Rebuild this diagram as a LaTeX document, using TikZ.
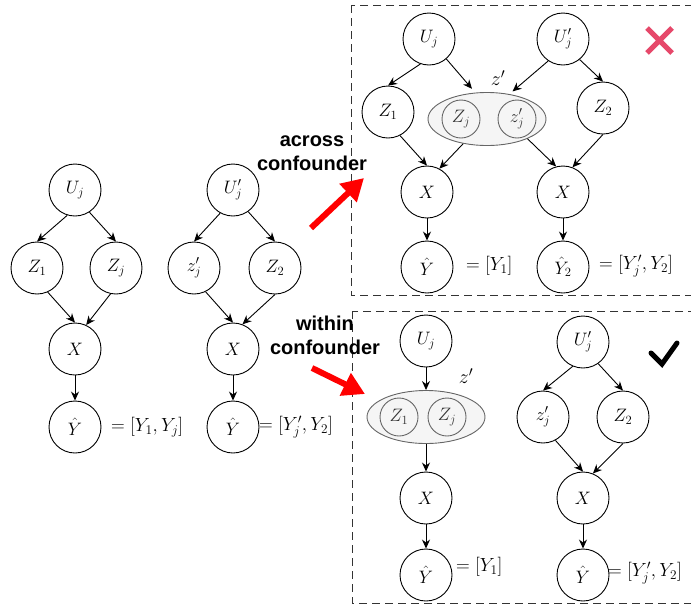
\RequirePackage{fix-cm}
\documentclass[tikz,border=0pt]{standalone}
\usepackage{fontspec}
\usetikzlibrary{arrows.meta,shapes.geometric}
\newfontfamily\labelfont{Liberation Sans}
\definecolor{crossred}{RGB}{230,72,106}
\definecolor{groupgray}{RGB}{102,102,102}
\definecolor{groupfill}{RGB}{245,245,245}

\begin{document}
\begin{tikzpicture}[x=1pt,y=-1pt,
	varnode/.style={circle,draw,line width=0.9pt,minimum size=52pt,inner sep=0pt,font=\fontsize{18}{20}\selectfont},
	subnode/.style={circle,draw=groupgray,line width=0.9pt,minimum size=38pt,inner sep=0pt,text=black!80,font=\fontsize{18}{20}\selectfont},
	groupnode/.style={ellipse,draw=groupgray,fill=groupfill,line width=0.9pt,minimum width=118pt,minimum height=53pt,inner sep=0pt},
	eqlabel/.style={anchor=west,inner sep=0pt,font=\fontsize{19}{21}\selectfont},
	link/.style={-{Stealth[length=9pt,width=8pt]},line width=0.9pt},
	panelbox/.style={draw=black!80,line width=0.9pt,dash pattern=on 8pt off 5pt},
	hintarrow/.style={-{Triangle[length=22pt,width=24pt]},red,line width=6pt},
	taglabel/.style={align=center,font=\labelfont\bfseries\fontsize{20}{24}\selectfont}]
	\useasboundingbox (0,0) rectangle (691,606);
	\draw[panelbox] (351,5) rectangle (700,295);
	\draw[panelbox] (352,311) rectangle (700,603);

	\node[varnode] (au) at (75,190) {$U_j$};
	\node[varnode] (az1) at (37,268) {$Z_1$};
	\node[varnode] (azj) at (116,268) {$Z_j$};
	\node[varnode] (ax) at (75,349) {$X$};
	\node[varnode] (ay) at (75,427) {$\hat{Y}$};
	\node[eqlabel] (aeq) at (111,427) {$=[Y_1,Y_j]$};
	\draw[link] (au.-107) -- (az1.north);
	\draw[link] (au.-57) -- (azj.north);
	\draw[link] (az1.-66) -- (ax.north);
	\draw[link] (azj.-102) -- (ax.65);
	\draw[link] (ax) -- (ay);

	\node[varnode] (bu) at (233,190) {$U'_j$};
	\node[varnode] (bzj) at (194,268) {$z'_j$};
	\node[varnode] (bz2) at (275,268) {$Z_2$};
	\node[varnode] (bx) at (233,349) {$X$};
	\node[varnode] (by) at (233,427) {$\hat{Y}$};
	\node[eqlabel] (beq) at (259,427) {$=[Y'_j,Y_2]$};
	\draw[link] (bu.-119) -- (bzj.north);
	\draw[link] (bu.-55) -- (bz2.north);
	\draw[link] (bzj.-64) -- (bx.north);
	\draw[link] (bz2.-90) -- (bx.69);
	\draw[link] (bx) -- (by);

	\node[varnode] (cu) at (429,39) {$U_j$};
	\node[varnode] (cu2) at (563,39) {$U'_j$};
	\node[varnode] (cz1) at (388,112) {$Z_1$};
	\node[groupnode] (cg) at (487,119) {};
	\node[subnode] (czj) at (461,119) {$Z_j$};
	\node[subnode] (czp) at (517,119) {$z'_j$};
	\node[eqlabel,anchor=center,font=\fontsize{20}{22}\selectfont] (cgl) at (498,78) {$z'$};
	\node[varnode] (cz2) at (603,108) {$Z_2$};
	\node[varnode] (cx) at (427,192) {$X$};
	\node[varnode] (cx2) at (563,192) {$X$};
	\node[varnode] (cy) at (427,267) {$\hat{Y}$};
	\node[varnode] (cy2) at (563,267) {$\hat{Y}_2$};
	\node[eqlabel] (ceq) at (466,266) {$=[Y_1]$};
	\node[eqlabel] (ceq2) at (599,266) {$=[Y'_j,Y_2]$};
	\draw[link] (cu.-109) -- (cz1.north);
	\draw[link,shorten >=5pt] (cu.-49) -- (cg.114);
	\draw[link,shorten >=4pt] (cu2.-124) -- (cg.48);
	\draw[link] (cu2.-51) -- (cz2.north);
	\draw[link] (cz1.-63) -- (cx.north);
	\draw[link] (cg.-134) -- (cx.62);
	\draw[link] (cg.-26) -- (cx2.105);
	\draw[link] (cz2.south) -- (cx2.69);
	\draw[link] (cx) -- (cy);
	\draw[link] (cx2) -- (cy2);

	\node[varnode] (du) at (426,341) {$U_j$};
	\node[groupnode] (dg) at (426,417) {};
	\node[subnode] (dz1) at (399,417) {$Z_1$};
	\node[subnode] (dzj) at (447,417) {$Z_j$};
	\node[eqlabel,anchor=center,font=\fontsize{20}{22}\selectfont] (dgl) at (466,376) {$z'$};
	\node[varnode] (dx) at (426,498) {$X$};
	\node[varnode] (dy) at (426,575) {$\hat{Y}$};
	\node[eqlabel] (deq) at (456,567) {$=[Y_1]$};
	\node[varnode] (du2) at (583,342) {$U'_j$};
	\node[varnode] (dzp) at (543,417) {$z'_j$};
	\node[varnode] (dz2) at (623,417) {$Z_2$};
	\node[varnode] (dx2) at (583,498) {$X$};
	\node[varnode] (dy2) at (583,575) {$\hat{Y}$};
	\node[eqlabel] (deq2) at (608,573) {$=[Y'_j,Y_2]$};
	\draw[link] (du) -- (dg);
	\draw[link] (dg) -- (dx);
	\draw[link] (dx) -- (dy);
	\draw[link] (du2.-113) -- (dzp.north);
	\draw[link] (du2.-55) -- (dz2.north);
	\draw[link] (dzp.-62) -- (dx2.north);
	\draw[link] (dz2.-90) -- (dx2.68);
	\draw[link] (dx2) -- (dy2);

	\coordinate (acrossfrom) at (311,228);
	\coordinate (acrossto) at (364,178);
	\coordinate (withinfrom) at (312,368);
	\coordinate (withinto) at (365,394);
	\draw[hintarrow] (acrossfrom) -- (acrossto);
	\draw[hintarrow] (withinfrom) -- (withinto);
	\node[taglabel] (across) at (312,153) {across\\confounder};
	\node[taglabel] (within) at (325,335) {within\\confounder};

	\draw[crossred,line width=5pt] (647,28) -- (672,53) (647,53) -- (672,28);
	\draw[line width=5pt,line cap=round] (651,353) -- (662,364) -- (677,343);
\end{tikzpicture}
\end{document}
